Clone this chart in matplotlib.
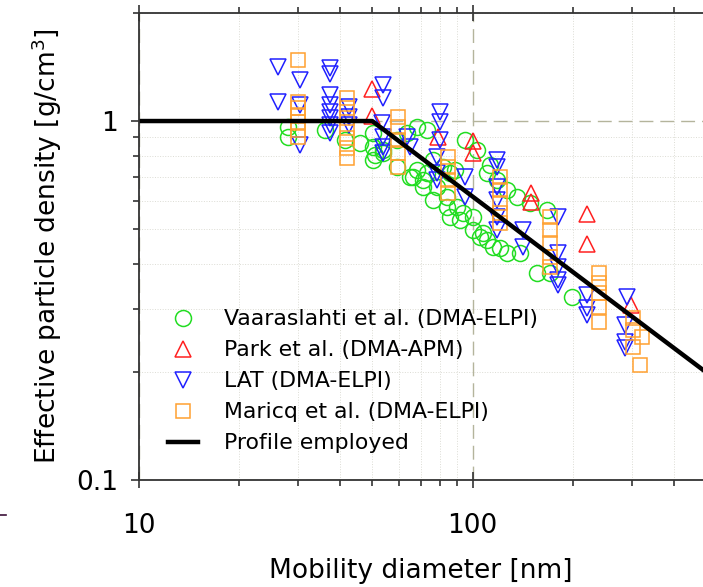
import matplotlib
matplotlib.use("Agg")
import matplotlib.pyplot as plt
from matplotlib.lines import Line2D
from matplotlib.ticker import LogLocator, NullFormatter, FixedLocator, FixedFormatter

plt.rcParams['font.family'] = ['DejaVu Sans']

# Effective density measurements: mobility diameter [nm], density [g/cm3]
vaara_d = [27.9, 27.9, 36.1, 41.4, 45.9, 50.3, 50.3, 50.9, 50.3, 53.8, 53.8, 59.3,
           59.3, 63.6, 64.9, 68.1, 68.1, 71.0, 72.9, 72.9, 76.0, 76.0, 78.2, 81.5,
           83.8, 83.8, 85.5, 89.7, 91.6, 93.5, 94.8, 100.2, 100.2, 103.0, 107.4,
           110.4, 110.4, 115.0, 118.3, 120.7, 126.7, 126.7, 135.8, 138.6, 148.5,
           155.8, 167.0, 170.5, 198.5, 66.2, 71.0, 85.5, 105.2, 88.5, 112.7]
vaara_rho = [0.962, 0.903, 0.944, 0.885, 0.868, 0.926, 0.846, 0.804, 0.779, 0.830,
             0.815, 0.885, 0.745, 0.926, 0.698, 0.962, 0.730, 0.685, 0.944, 0.716,
             0.779, 0.603, 0.655, 0.745, 0.614, 0.576, 0.716, 0.576, 0.530, 0.554,
             0.885, 0.540, 0.497, 0.830, 0.487, 0.716, 0.466, 0.445, 0.685, 0.443,
             0.642, 0.429, 0.614, 0.429, 0.591, 0.377, 0.565, 0.377, 0.323, 0.698,
             0.655, 0.540, 0.475, 0.730, 0.754]

park_d = [49.9, 49.9, 78.7, 100.2, 100.2, 149.5, 149.5, 220.0, 220.0, 298.2]
park_rho = [1.228, 1.033, 0.903, 0.880, 0.815, 0.630, 0.595, 0.551, 0.454, 0.307]

lat_d = [26.1, 30.4, 26.1, 30.4, 30.4, 37.3, 37.3, 37.3, 37.3, 37.3, 37.3, 37.3,
         37.3, 42.6, 42.6, 42.6, 53.8, 53.8, 53.5, 53.8, 53.8, 53.8, 63.6, 64.9,
         79.8, 79.8, 79.8, 78.2, 78.2, 78.2, 94.8, 94.8, 118.3, 118.3, 118.3,
         118.3, 118.3, 118.3, 141.5, 141.5, 180.1, 180.1, 180.1, 180.1, 180.1,
         220.0, 220.0, 220.0, 290.0, 286.0, 286.0, 286.0]
lat_rho = [1.414, 1.301, 1.130, 1.108, 0.857, 1.405, 1.352, 1.181, 1.108, 1.059,
           1.020, 0.975, 0.926, 1.094, 1.026, 0.975, 1.260, 1.159, 0.987, 0.903,
           0.846, 0.815, 0.903, 0.846, 1.059, 0.994, 0.885, 0.794, 0.716, 0.685,
           0.698, 0.614, 0.779, 0.745, 0.655, 0.603, 0.540, 0.497, 0.497, 0.445,
           0.540, 0.429, 0.392, 0.361, 0.349, 0.327, 0.301, 0.288, 0.323, 0.270,
           0.242, 0.233]

maricq_d = [30.0, 30.0, 30.0, 30.0, 30.0, 30.0, 30.0, 42.0, 42.0, 42.0, 42.0, 42.0,
            42.0, 42.0, 59.7, 59.7, 59.7, 59.7, 59.7, 84.3, 84.3, 84.3, 84.3,
            120.7, 120.7, 120.7, 120.7, 120.7, 170.5, 170.5, 170.5, 170.5, 170.5,
            239.0, 239.0, 239.0, 239.0, 239.0, 302.3, 302.3, 302.3, 321.6, 317.2]
maricq_rho = [1.479, 1.130, 1.087, 1.039, 0.994, 0.944, 0.903, 1.159, 1.087, 1.020,
              0.956, 0.897, 0.841, 0.789, 1.026, 0.962, 0.885, 0.815, 0.745, 0.794,
              0.745, 0.685, 0.630, 0.698, 0.642, 0.591, 0.554, 0.520, 0.540, 0.497,
              0.457, 0.418, 0.392, 0.377, 0.354, 0.332, 0.303, 0.276, 0.283, 0.262,
              0.235, 0.250, 0.209]

# density profile used in the model (constant, then power law)
profile_d = [10.0, 50.0, 1000.0]
profile_rho = [1.0, 1.0, 0.123]

fig = plt.figure(figsize=(7.03, 5.87), dpi=100)
ax = fig.add_axes([0.1977, 0.1823, 0.9494, 0.7956])

ax.set_xscale('log')
ax.set_yscale('log')
ax.set_xlim(10, 1000)
ax.set_ylim(0.1, 2.0)

# grid: faint dotted minor, dashed major
ax.grid(True, which='minor', linestyle=':', color='#dcdcd4', linewidth=0.7)
ax.grid(True, which='major', linestyle=(0, (10, 5)), color='#b4b49c', linewidth=1.0)
ax.set_axisbelow(True)

mk = dict(linestyle='none', markerfacecolor='none', markeredgewidth=1.1)
ax.plot(vaara_d, vaara_rho, marker='o', markersize=11.5, markeredgecolor='#22dd22',
        label='Vaaraslahti et al. (DMA-ELPI)', **mk)
ax.plot(park_d, park_rho, marker='^', markersize=12, markeredgecolor='#ff2020',
        label='Park et al. (DMA-APM)', **mk)
ax.plot(lat_d, lat_rho, marker='v', markersize=12, markeredgecolor='#2020ff',
        label='LAT (DMA-ELPI)', **mk)
ax.plot(maricq_d, maricq_rho, marker='s', markersize=10, markeredgecolor='#ffa030',
        label='Maricq et al. (DMA-ELPI)', **mk)
ax.plot(profile_d, profile_rho, color='black', linewidth=3.2,
        label='Profile employed', solid_joinstyle='round')

for side in ['left', 'top', 'bottom']:
    ax.spines[side].set_color('#333333')
    ax.spines[side].set_linewidth(1.3)
ax.spines['right'].set_visible(False)

ax.xaxis.set_major_locator(FixedLocator([10, 100, 1000]))
ax.xaxis.set_major_formatter(FixedFormatter(['10', '100', '']))
ax.xaxis.set_minor_locator(LogLocator(base=10, subs=range(2, 10)))
ax.xaxis.set_minor_formatter(NullFormatter())
ax.yaxis.set_major_locator(FixedLocator([0.1, 1]))
ax.yaxis.set_major_formatter(FixedFormatter(['0.1', '1']))
ax.yaxis.set_minor_locator(LogLocator(base=10, subs=range(2, 10)))
ax.yaxis.set_minor_formatter(NullFormatter())

ax.tick_params(which='both', direction='out', top=True, right=False,
               color='#333333', width=1.2)
ax.tick_params(which='major', length=6, labelsize=19)
ax.tick_params(which='minor', length=4)
ax.tick_params(axis='x', which='major', direction='inout', length=12, pad=18)
ax.tick_params(axis='y', which='major', pad=9)

ax.set_xlabel('Mobility diameter [nm]', fontsize=19)
ax.xaxis.set_label_coords(0.4225, -0.168)
ax.set_ylabel('Effective particle density [g/cm$^3$]', fontsize=19)
ax.yaxis.set_label_coords(-0.112, 0.5)

ax.legend(loc='upper left', bbox_to_anchor=(0.226, 0.488),
          bbox_transform=fig.transFigure, frameon=False, fontsize=15.8,
          handlelength=1.4, handletextpad=1.15, labelspacing=0.5,
          borderaxespad=0)

# small dark tick at the left margin
fig.add_artist(Line2D([0.0, 0.008], [0.1227, 0.1227], color='#3c1038',
                      linewidth=1.2, transform=fig.transFigure))

fig.savefig('out.png', dpi=100)
